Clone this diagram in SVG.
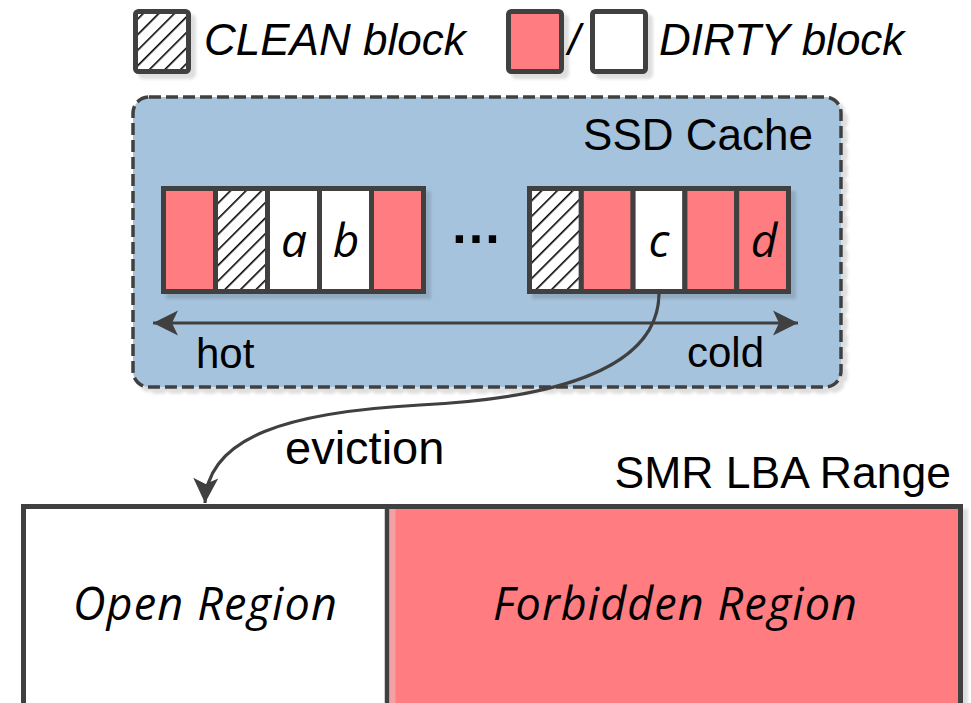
<svg xmlns="http://www.w3.org/2000/svg" width="971" height="703" viewBox="0 0 971 703">
  <defs>
    <style>
      .sans { font-family: "Liberation Sans", Arial, sans-serif; fill: #000; }
      .ital { font-family: "Open Sans", "Noto Sans", sans-serif; font-style: italic; fill: #000; }
      .cell { stroke: #404040; stroke-width: 5; stroke-linejoin: miter; }
      .dirty { fill: #FF7C80; }
      .white { fill: #FFFFFF; }
      .clean { fill: url(#hatch); }
      .line { fill: none; stroke: #404040; stroke-width: 3.2; }
    </style>
    <pattern id="hatch" patternUnits="userSpaceOnUse" width="11" height="11" patternTransform="rotate(45)">
      <rect width="11" height="11" fill="#FFFFFF"/>
      <line x1="0.8" y1="0" x2="0.8" y2="11" stroke="#000" stroke-width="1.6"/>
    </pattern>
    <filter id="shadow" x="-10%" y="-10%" width="130%" height="130%">
      <feDropShadow dx="5" dy="5" stdDeviation="1.5" flood-color="#000" flood-opacity="0.13"/>
    </filter>
    <marker id="arrow" markerUnits="userSpaceOnUse" viewBox="-26 -14 28 28" refX="0" refY="0" markerWidth="28" markerHeight="28" orient="auto-start-reverse">
      <path d="M0,0 L-25,-12.5 L-19,0 L-25,12.5 Z" fill="#404040"/>
    </marker>
  </defs>

  <rect width="971" height="703" fill="#FFFFFF"/>

  <!-- legend -->
  <g id="legend-clean">
    <rect class="cell clean" x="135.5" y="11.5" width="53" height="60" rx="3" filter="url(#shadow)"/>
    <text class="sans" x="204" y="55" font-size="44" font-style="italic">CLEAN block</text>
  </g>
  <g id="legend-dirty">
    <rect class="cell dirty" x="508.5" y="11.5" width="53" height="60" rx="3" filter="url(#shadow)"/>
    <text class="sans" x="568" y="55" font-size="44" font-style="italic">/</text>
    <rect class="cell white" x="592.5" y="11.5" width="53" height="60" rx="3" filter="url(#shadow)"/>
    <text class="sans" x="659" y="55" font-size="44" font-style="italic">DIRTY block</text>
  </g>

  <!-- SSD cache container -->
  <g id="ssd-cache">
    <rect x="133" y="97" width="708" height="290" rx="16" fill="#A6C3DD" stroke="#404040" stroke-width="3.5" stroke-dasharray="12 5" filter="url(#shadow)"/>
    <text class="sans" x="813" y="150" font-size="44" text-anchor="end">SSD Cache</text>
  </g>

  <!-- hot end of the LRU list -->
  <g id="blocks-hot" filter="url(#shadow)">
    <rect class="cell dirty" x="163.5" y="188.5" width="52" height="103"/>
    <rect class="cell clean" x="215.5" y="188.5" width="52" height="103"/>
    <rect class="cell white" x="267.5" y="188.5" width="52" height="103"/>
    <rect class="cell white" x="319.5" y="188.5" width="52" height="103"/>
    <rect class="cell dirty" x="371.5" y="188.5" width="52" height="103"/>
  </g>
  <g id="labels-hot">
    <text class="ital" x="294" y="257" font-size="46" text-anchor="middle">a</text>
    <text class="ital" x="346" y="257" font-size="46" text-anchor="middle">b</text>
  </g>

  <g id="ellipsis">
    <text class="sans" x="476" y="243" font-size="52" font-weight="bold" text-anchor="middle">…</text>
  </g>

  <!-- cold end of the LRU list -->
  <g id="blocks-cold" filter="url(#shadow)">
    <rect class="cell clean" x="529.5" y="188.5" width="51.8" height="103"/>
    <rect class="cell dirty" x="581.3" y="188.5" width="51.8" height="103"/>
    <rect class="cell white" x="633.1" y="188.5" width="51.8" height="103"/>
    <rect class="cell dirty" x="684.9" y="188.5" width="51.8" height="103"/>
    <rect class="cell dirty" x="736.7" y="188.5" width="51.8" height="103"/>
  </g>
  <g id="labels-cold">
    <text class="ital" x="659" y="257" font-size="46" text-anchor="middle">c</text>
    <text class="ital" x="764" y="257" font-size="46" text-anchor="middle">d</text>
  </g>

  <!-- SMR drive LBA range -->
  <g id="smr-range">
    <rect x="23.5" y="506.5" width="937" height="220" fill="#FFFFFF" stroke="#404040" stroke-width="5" filter="url(#shadow)"/>
    <text class="sans" x="951" y="488" font-size="44.5" text-anchor="end">SMR LBA Range</text>
  </g>
  <g id="open-region">
    <text class="ital" x="73" y="620" font-size="45" textLength="264" lengthAdjust="spacing">Open Region</text>
  </g>
  <g id="forbidden-region">
    <rect x="389.5" y="509" width="568.5" height="200" fill="#FF7C80"/>
    <rect x="389.5" y="509" width="6" height="200" fill="#F2A2A5"/>
    <text class="ital" x="493" y="620" font-size="45" textLength="364" lengthAdjust="spacing">Forbidden Region</text>
  </g>
  <line x1="387" y1="506.5" x2="387" y2="703" stroke="#404040" stroke-width="4.5"/>
  <line x1="23.5" y1="506.5" x2="960.5" y2="506.5" stroke="#404040" stroke-width="5"/>

  <!-- connectors -->
  <g id="connectors">
    <path class="line" d="M153,323 L798,323" marker-start="url(#arrow)" marker-end="url(#arrow)"/>
    <path class="line" d="M659,294 C658,365 565,398 420,405 C290,412 207,436 205,503" marker-end="url(#arrow)"/>
    <text class="sans" x="196" y="368" font-size="42">hot</text>
    <text class="sans" x="687" y="367" font-size="42">cold</text>
    <text class="sans" x="285" y="464" font-size="47">eviction</text>
  </g>
</svg>
